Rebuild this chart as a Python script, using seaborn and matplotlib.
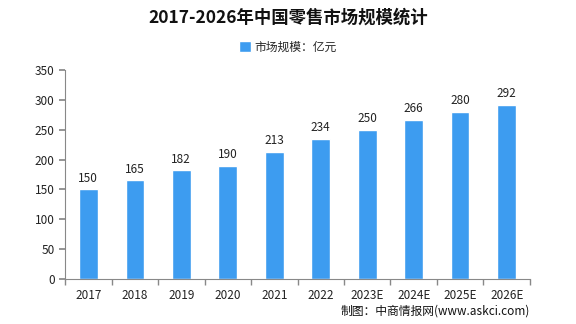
import numpy as np
import pandas as pd
import matplotlib
matplotlib.use('Agg')
import matplotlib.pyplot as plt
import seaborn as sns

years = ['2017', '2018', '2019', '2020', '2021', '2022', '2023E', '2024E', '2025E', '2026E']
market_size = [150, 165, 182, 190, 213, 234, 250, 266, 280, 292]

sns.set_theme(style='white')
plt.rcParams['font.family'] = ['Noto Sans CJK SC', 'DejaVu Sans']

df = pd.DataFrame({'year': years, 'size': market_size})

fig = plt.figure(figsize=(5.76, 3.24), dpi=100)
ax = fig.add_axes([0.113, 0.139, 0.807, 0.645])

bar_color = '#3d9cf0'
sns.barplot(data=df, x='year', y='size', color=bar_color, width=0.4,
            saturation=1, ax=ax, label='市场规模：亿元')

for i, v in enumerate(market_size):
    ax.text(i, v + 8, str(v), ha='center', va='bottom', fontsize=8.5, color='#222222')

ax.set_ylim(0, 350)
ax.set_yticks(range(0, 351, 50))
ax.set_xlim(-0.5, len(years) - 0.5)
ax.set_xlabel('')
ax.set_ylabel('')

for s in ['top', 'right']:
    ax.spines[s].set_visible(False)
for s in ['left', 'bottom']:
    ax.spines[s].set_color('#888888')
    ax.spines[s].set_linewidth(0.8)

ax.set_xticks(np.arange(-0.5, len(years), 1), minor=True)
ax.tick_params(axis='x', which='major', length=0, labelsize=8.5, pad=7, colors='#222222')
ax.tick_params(axis='x', which='minor', length=4, color='#888888', direction='out', bottom=True)
ax.tick_params(axis='y', which='major', length=4, color='#888888', direction='out', left=True,
               labelsize=8.5, colors='#222222')

fig.text(0.5, 0.945, '2017-2026年中国零售市场规模统计', ha='center', va='center',
         fontsize=12.5, fontweight='bold', color='#111111')

leg = ax.legend(loc='center', frameon=False, fontsize=8.5, handlelength=1.0,
                handleheight=1.0, handletextpad=0.3)
leg.set_bbox_to_anchor((0.5, 0.855), transform=fig.transFigure)

fig.text(0.92, 0.04, '制图：中商情报网(www.askci.com)', ha='right', va='center',
         fontsize=8.5, color='#111111')

fig.savefig('out.png', dpi=100)
plt.close(fig)
